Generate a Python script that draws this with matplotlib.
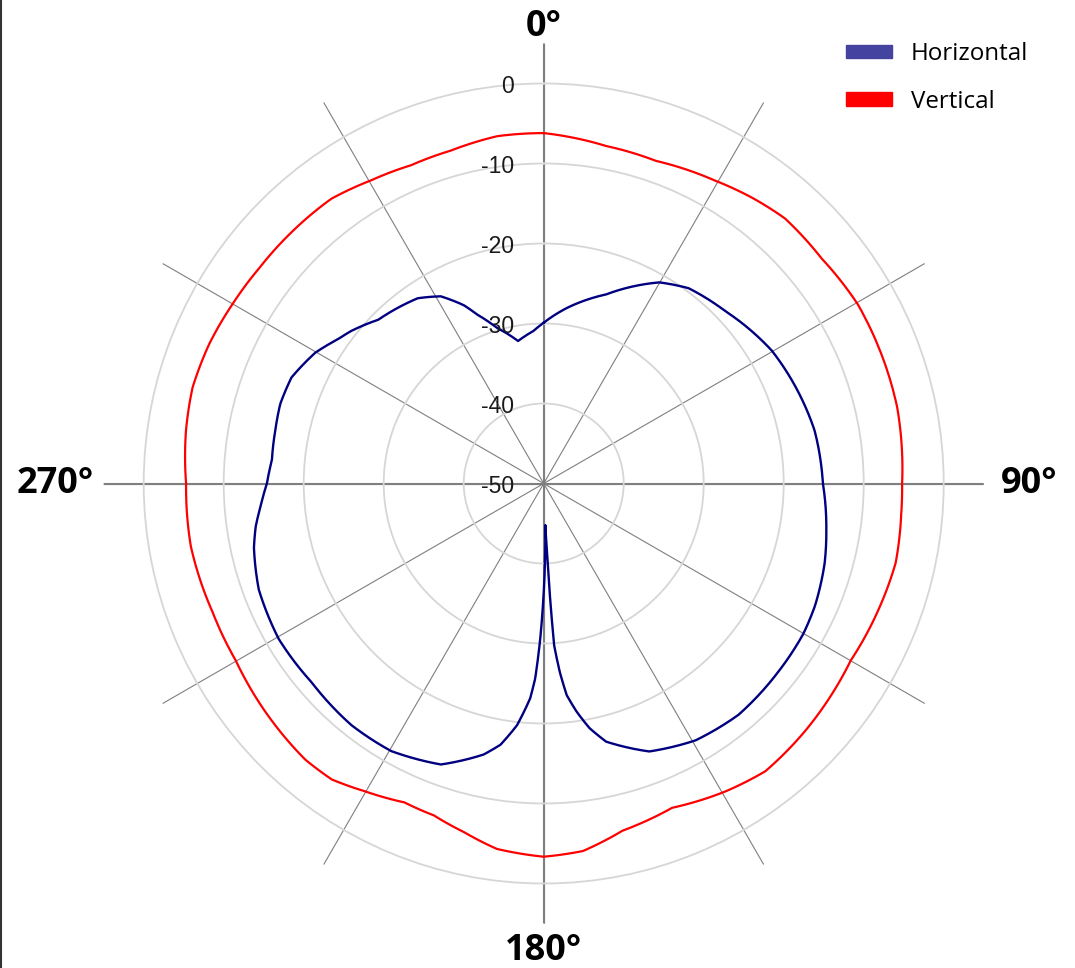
import numpy as np
import matplotlib
matplotlib.use('Agg')
import matplotlib.pyplot as plt
from matplotlib.patches import Patch
from matplotlib.lines import Line2D

# polar response, angle in degrees (clockwise from top), level in dB
horiz_deg = [0, 7.4, 18.3, 29.9, 36.6, 46.5, 59.8, 70.0, 78.9, 90,
             99.3, 105.8, 114.3, 120.1, 128.8, 139.9, 149.4, 158.5, 166.4, 169.4,
             171.8, 173.8, 175.1, 176.3, 176.8, 177.1, 177.8, 179.0, 180.2, 181.3,
             182.5, 183.6, 186.3, 189.4, 192.5, 200.1, 209.7, 218.5, 229.4, 239.6,
             249.6, 257.5, 261.5, 265.4, 270, 274.9, 281.2, 286.8, 292.8, 299.8,
             305.1, 308.4, 314.7, 325.8, 331.2, 335.9, 338.5, 343.3, 349.8, 356.1, 360]
horiz_db = [-29.9, -27.9, -25.1, -21.0, -19.6, -18.7, -17.0, -16.2, -15.5, -15.1,
            -14.2, -13.5, -12.8, -12.5, -12.4, -12.2, -12.7, -14.0, -16.8, -18.9,
            -21.2, -23.4, -26.3, -29.7, -35.5, -40.5, -44.8, -40.5, -35.5, -30.5,
            -25.6, -23.1, -19.6, -16.9, -15.3, -12.6, -11.5, -11.4, -11.8, -11.6,
            -12.0, -12.9, -13.6, -14.5, -15.4, -15.9, -15.8, -15.6, -15.8, -17.1,
            -18.6, -19.3, -20.9, -22.0, -23.3, -25.6, -27.3, -29.7, -31.9, -30.9, -29.9]

vert_deg = [0, 10.5, 19.2, 29.5, 36.0, 42.3, 51.0, 60.3, 70.2, 77.8, 90,
            94.8, 102.7, 111.1, 120.0, 133.5, 142.4, 149.4, 158.4, 167.2, 173.9,
            180, 187.3, 192.9, 198.3, 203.6, 210.2, 215.6, 220.8, 230.6, 240.1, 248.7,
            259.9, 270, 278.4, 285.3, 292.6, 299.9, 307.1, 315.0, 323.3, 330.4,
            337.4, 344.4, 352.4, 360]
vert_db = [-6.2, -7.1, -7.3, -6.5, -5.8, -5.2, -5.3, -4.8, -4.8, -4.8, -5.2,
           -5.15, -4.9, -5.3, -5.7, -5.0, -4.6, -5.3, -6.4, -5.5, -3.8,
           -3.35, -3.95, -5.3, -6.3, -6.5, -5.5, -4.5, -4.4, -5.0, -5.6, -5.6,
           -5.2, -5.3, -4.8, -4.5, -4.7, -5.1, -5.4, -5.5, -5.6, -6.4,
           -6.9, -6.8, -6.2, -6.2]

r_ticks = [-50, -40, -30, -20, -10, 0]
spoke_deg = list(range(0, 360, 30))
main_deg = [0, 90, 180, 270]
main_offsets = [(0, 17), (45, 0), (0, -27), (-48, 0)]  # label offset from spoke end, px

W, H = 1075, 968
fig = plt.figure(figsize=(W / 100, H / 100), dpi=100)
cx, cy, R = 543.7, 483.5, 440
ax = fig.add_axes([(cx - R) / W, (H - cy - R) / H, 2 * R / W, 2 * R / H], projection='polar')
ax.set_theta_zero_location('N')
ax.set_theta_direction(-1)
ax.set_rlim(-50, 5)
ax.spines['polar'].set_visible(False)

ax.set_rgrids(r_ticks[1:], labels=[''] * (len(r_ticks) - 1))
ax.yaxis.grid(True, color='#d6d6d6', lw=1.3)

ax.set_thetagrids(spoke_deg, labels=[''] * len(spoke_deg))
ax.xaxis.grid(True, color='#7f7f7f', lw=0.8)
for d, off in zip(main_deg, main_offsets):
    ax.plot([np.radians(d), np.radians(d)], [-50, 5], color='#7f7f7f', lw=1.5, zorder=1)
    ax.annotate(f'{d}\u00b0', xy=(np.radians(d), 5), xytext=off, textcoords='offset pixels',
                ha='center', va='center', fontsize=26, fontweight='bold',
                fontfamily='Open Sans', color='black')

for v in r_ticks:
    ax.annotate(str(v), xy=(0, v), xytext=(-30, -3), textcoords='offset pixels',
                ha='right', va='center', fontsize=16.5, fontfamily='Liberation Sans',
                color='#1a1a1a', zorder=5)

lv, = ax.plot(np.radians(vert_deg), vert_db, color='#ff0000', lw=1.6, zorder=3)
lh, = ax.plot(np.radians(horiz_deg), horiz_db, color='#000080', lw=1.7, zorder=4)
# draw segments as curves in polar space
for ln in (lv, lh):
    ln.get_path()._interpolation_steps = 40

handles = [Patch(color='#4444a0', label='Horizontal'), Patch(color='#ff0000', label='Vertical')]
fig.legend(handles=handles, loc='upper left', bbox_to_anchor=(846 / W, 1 - 42 / H),
           frameon=False, borderpad=0, borderaxespad=0, handlelength=1.9, handleheight=0.5,
           handletextpad=0.78, labelspacing=0.98,
           prop={'family': 'Open Sans', 'size': 17.4})

fig.add_artist(Line2D([0.0012, 0.0012], [0, 1], color='#333333', lw=1.5, transform=fig.transFigure))

fig.savefig('out.png', dpi=100)
